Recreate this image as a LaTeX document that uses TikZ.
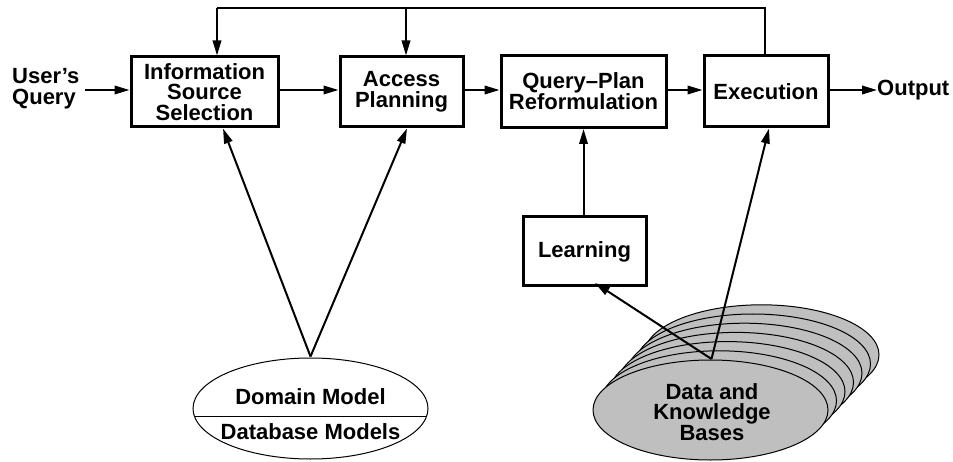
\documentclass[tikz,border=0pt]{standalone}
\usepackage{fontspec}
\setmainfont{Liberation Sans}
\usetikzlibrary{arrows.meta,shapes.geometric,calc}

\tikzset{
  lbl/.style={font=\fontsize{22}{20.8}\selectfont\bfseries, align=center, inner sep=0pt},
  stage/.style={draw, line width=3pt, rectangle, lbl},
  flow/.style={line width=2pt, -{Triangle[length=15pt,width=8.5pt]}},
  plain/.style={line width=2pt},
  thinell/.style={draw, line width=1pt, ellipse, inner sep=0pt},
  kb/.style={thinell, fill=black!25, minimum width=235pt, minimum height=100pt},
}

\begin{document}
\begin{tikzpicture}[x=1pt,y=-1pt]
  \useasboundingbox (0,0) rectangle (953,462);

  % processing stages
  \node[stage, minimum width=147pt, minimum height=70pt] (iss) at (204.5,92) {Information\\Source\\Selection};
  \node[stage, minimum width=123pt, minimum height=70pt] (ap) at (401.5,92) {Access\\Planning};
  \node[stage, minimum width=165pt, minimum height=72pt] (qp) at (583.5,91.5) {Query--Plan\\Reformulation};
  \node[stage, minimum width=124pt, minimum height=71pt] (ex) at (766,91.5) {Execution};
  \node[stage, minimum width=123pt, minimum height=69pt] (learn) at (584.5,251.5) {Learning};

  % input and output labels
  \node[lbl, align=left, anchor=west] (uq) at (12,89) {User's\\Query};
  \node[lbl, anchor=west] (out) at (877,90) {Output};

  % domain model ellipse with divider
  \node[thinell, minimum width=235pt, minimum height=101pt] (dm) at (310.5,408.5) {};
  \begin{scope}
    \clip (dm.center) ellipse [x radius=117.5pt, y radius=50.5pt];
    \draw[line width=1pt] ($(dm.west)+(0,7.5)$) -- ($(dm.east)+(0,7.5)$);
  \end{scope}
  \node[lbl] (dmtop) at (310.5,397) {Domain Model};
  \node[lbl] (dmbot) at (310.5,432) {Database Models};

  % stacked data and knowledge bases, back to front
  \foreach \i in {6,5,...,1} {
    \node[kb] (kb\i) at ({710.5+8.5*\i},{410-9.2*\i}) {};
  }
  \node[kb] (dkb) at (710.5,410) {};
  \node[lbl] at (712,412) {Data and\\Knowledge\\Bases};

  % main pipeline
  \draw[flow] (uq.east -| 85,0) ++(0,1) coordinate (uqe) -- (iss.west |- uqe);
  \draw[flow] (iss.east |- 0,90) -- (ap.west |- 0,90);
  \draw[flow] (ap.east |- 0,90) -- (qp.west |- 0,90);
  \draw[flow] (qp.east |- 0,90) -- (ex.west |- 0,90);
  \draw[flow] (ex.east |- 0,90) -- (out.west |- 0,90);

  % feedback from execution to the planning stages
  \coordinate (fbx) at (765,0);
  \coordinate (fbi) at (217,0);
  \coordinate (fba) at (406,0);
  \draw[plain] (ex.north -| fbx) -- (fbx |- 0,8) -- (fbi |- 0,8);
  \draw[flow] (fbi |- 0,8) -- (iss.north -| fbi);
  \draw[flow] (fba |- 0,8) -- (ap.north -| fba);

  % models feed the selection and planning stages
  \coordinate (dmapex) at ($(dm.north)+(0,-1)$);
  \draw[flow] (dmapex) -- (iss.south -| 223,0);
  \draw[flow] (dmapex) -- (ap.south -| 407,0);

  % learning and execution draw on the knowledge bases
  \coordinate (kbapex) at (711.5,359);
  \draw[flow] (learn.north -| qp.south) -- (qp.south);
  \draw[flow] (kbapex) -- (595,283);
  \draw[flow] (kbapex) -- (ex.south -| 769,0);
\end{tikzpicture}
\end{document}
